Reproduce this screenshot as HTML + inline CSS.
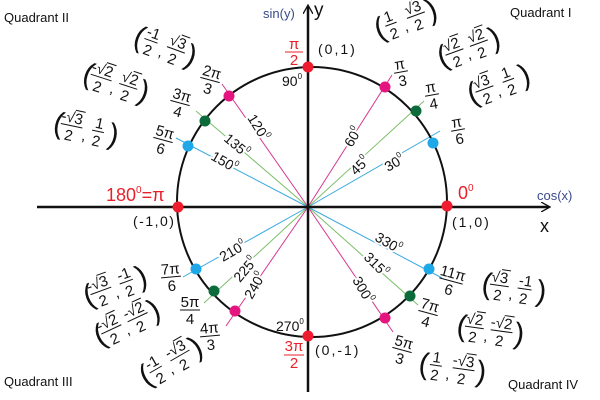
<!DOCTYPE html>
<html><head><meta charset="utf-8"><style>
html,body{margin:0;padding:0;background:#fff;width:600px;height:400px;overflow:hidden}
svg text{font-family:"Liberation Sans",sans-serif;fill:#111}
.f{font-size:15px;text-anchor:middle}
.p{font-size:30px}
.r{fill:#e8202a}
.d{font-size:14px;stroke:#fff;stroke-width:4px;paint-order:stroke}
</style></head><body>
<svg width="600" height="400" viewBox="0 0 600 400" xmlns="http://www.w3.org/2000/svg">
<defs>
<marker id="ar" markerWidth="10" markerHeight="10" refX="8" refY="5" orient="auto" markerUnits="userSpaceOnUse"><path d="M0,0 L9,5 L0,10" fill="none" stroke="#111" stroke-width="1.3"/></marker>
</defs>
<g stroke-width="1">
<line x1="308" y1="207" x2="440" y2="131" stroke="#3aa9e0"/>
<line x1="308" y1="207" x2="424" y2="101" stroke="#7cbf6a"/>
<line x1="308" y1="207" x2="392" y2="75" stroke="#d6388e"/>
<line x1="308" y1="207" x2="222" y2="84" stroke="#d6388e"/>
<line x1="308" y1="207" x2="196" y2="111" stroke="#7cbf6a"/>
<line x1="308" y1="207" x2="176" y2="138" stroke="#3aa9e0"/>
<line x1="308" y1="207" x2="183" y2="277" stroke="#3aa9e0"/>
<line x1="308" y1="207" x2="204" y2="303" stroke="#7cbf6a"/>
<line x1="308" y1="207" x2="226" y2="326" stroke="#d6388e"/>
<line x1="308" y1="207" x2="393" y2="332" stroke="#d6388e"/>
<line x1="308" y1="207" x2="418" y2="305" stroke="#7cbf6a"/>
<line x1="308" y1="207" x2="442" y2="278" stroke="#3aa9e0"/>
</g>
<ellipse cx="312" cy="202" rx="135" ry="135" fill="none" stroke="#111" stroke-width="2"/>
<line x1="37" y1="207" x2="549" y2="207" stroke="#111" stroke-width="2.5" marker-end="url(#ar)"/>
<line x1="308" y1="392" x2="308" y2="6" stroke="#111" stroke-width="2.5" marker-end="url(#ar)"/>
<g>
<circle cx="308" cy="67" r="5.5" fill="#ee1c2e"/><circle cx="308" cy="336" r="5.5" fill="#ee1c2e"/>
<circle cx="178" cy="207" r="5.5" fill="#ee1c2e"/><circle cx="447" cy="206" r="5.5" fill="#ee1c2e"/>
<circle cx="433" cy="143" r="5.5" fill="#1fa8e8"/><circle cx="416" cy="111" r="5.5" fill="#0b6b3a"/><circle cx="385" cy="87" r="5.5" fill="#e5157f"/>
<circle cx="229" cy="96" r="5.5" fill="#e5157f"/><circle cx="205" cy="121" r="5.5" fill="#0b6b3a"/><circle cx="188" cy="146" r="5.5" fill="#1fa8e8"/>
<circle cx="196" cy="269" r="5.5" fill="#1fa8e8"/><circle cx="214" cy="291" r="5.5" fill="#0b6b3a"/><circle cx="235" cy="311" r="5.5" fill="#e5157f"/>
<circle cx="385" cy="318" r="5.5" fill="#e5157f"/><circle cx="410" cy="296" r="5.5" fill="#0b6b3a"/><circle cx="429" cy="269" r="5.5" fill="#1fa8e8"/>
</g>
<text x="4" y="22" font-size="13">Quadrant II</text>
<text x="510" y="17" font-size="13">Quadrant I</text>
<text x="4" y="386" font-size="13">Quadrant III</text>
<text x="508" y="389" font-size="13">Quadrant IV</text>
<text x="263" y="18" font-size="13" style="fill:#3a4a8a">sin(y)</text>
<text x="314" y="16" font-size="19">y</text>
<text x="537" y="200" font-size="13" style="fill:#3a4a8a">cos(x)</text>
<text x="540" y="232" font-size="18">x</text>
<text x="294" y="49" class="f r">π</text><line x1="285" y1="52" x2="303" y2="52" stroke="#e8202a"/><text x="294" y="65" class="f r">2</text>
<text x="318" y="54" font-size="14" letter-spacing="2">(0,1)</text>
<text x="282" y="86" font-size="14">90<tspan font-size="8" dy="-7">0</tspan></text>
<text x="106" y="201" font-size="18" class="r">180<tspan font-size="10" dy="-8">0</tspan><tspan dy="8">=π</tspan></text>
<text x="133" y="226" font-size="14" letter-spacing="1.5">(-1,0)</text>
<text x="458" y="199" font-size="18" class="r">0<tspan font-size="10" dy="-8">0</tspan></text>
<text x="452" y="227" font-size="14" letter-spacing="2">(1,0)</text>
<text x="276" y="331" font-size="14">270<tspan font-size="8" dy="-7">0</tspan></text>
<text x="294" y="351" class="f r">3π</text><line x1="284" y1="355" x2="304" y2="355" stroke="#e8202a"/><text x="294" y="368" class="f r">2</text>
<text x="315" y="355" font-size="14" letter-spacing="2">(0,-1)</text>
<text class="d" transform="translate(352,148) rotate(-60)">60<tspan font-size="8" dy="-7">0</tspan></text>
<text class="d" transform="translate(356,176) rotate(-45)">45<tspan font-size="8" dy="-7">0</tspan></text>
<text class="d" transform="translate(388,172) rotate(-30)">30<tspan font-size="8" dy="-7">0</tspan></text>
<text class="d" transform="translate(247,118) rotate(58)">120<tspan font-size="8" dy="-7">0</tspan></text>
<text class="d" transform="translate(223,140) rotate(40)">135<tspan font-size="8" dy="-7">0</tspan></text>
<text class="d" transform="translate(210,159) rotate(30)">150<tspan font-size="8" dy="-7">0</tspan></text>
<text class="d" transform="translate(223,262) rotate(-30)">210<tspan font-size="8" dy="-7">0</tspan></text>
<text class="d" transform="translate(240,283) rotate(-50)">225<tspan font-size="8" dy="-7">0</tspan></text>
<text class="d" transform="translate(252,300) rotate(-60)">240<tspan font-size="8" dy="-7">0</tspan></text>
<text class="d" transform="translate(374,240) rotate(30)">330<tspan font-size="8" dy="-7">0</tspan></text>
<text class="d" transform="translate(363,258) rotate(45)">315<tspan font-size="8" dy="-7">0</tspan></text>
<text class="d" transform="translate(352,280) rotate(60)">300<tspan font-size="8" dy="-7">0</tspan></text>
<g transform="translate(401,72) rotate(-10)"><text class="f" y="-3">π</text><line x1="-7" x2="7" stroke="#111"/><text class="f" y="14">3</text></g>
<g transform="translate(432,95) rotate(-10)"><text class="f" y="-3">π</text><line x1="-7" x2="7" stroke="#111"/><text class="f" y="14">4</text></g>
<g transform="translate(458,130) rotate(-10)"><text class="f" y="-3">π</text><line x1="-7" x2="7" stroke="#111"/><text class="f" y="14">6</text></g>
<g transform="translate(210,80) rotate(15)"><text class="f" y="-3">2π</text><line x1="-10" x2="10" stroke="#111"/><text class="f" y="14">3</text></g>
<g transform="translate(180,103) rotate(15)"><text class="f" y="-3">3π</text><line x1="-10" x2="10" stroke="#111"/><text class="f" y="14">4</text></g>
<g transform="translate(163,140) rotate(15)"><text class="f" y="-3">5π</text><line x1="-10" x2="10" stroke="#111"/><text class="f" y="14">6</text></g>
<g transform="translate(171,277) rotate(-5)"><text class="f" y="-3">7π</text><line x1="-10" x2="10" stroke="#111"/><text class="f" y="14">6</text></g>
<g transform="translate(190,310)"><text class="f" y="-3">5π</text><line x1="-10" x2="10" stroke="#111"/><text class="f" y="14">4</text></g>
<g transform="translate(210,336) rotate(-5)"><text class="f" y="-3">4π</text><line x1="-10" x2="10" stroke="#111"/><text class="f" y="14">3</text></g>
<g transform="translate(451,281) rotate(15)"><text class="f" y="-3">11π</text><line x1="-12" x2="12" stroke="#111"/><text class="f" y="14">6</text></g>
<g transform="translate(428,313) rotate(15)"><text class="f" y="-3">7π</text><line x1="-10" x2="10" stroke="#111"/><text class="f" y="14">4</text></g>
<g transform="translate(402,350) rotate(15)"><text class="f" y="-3">5π</text><line x1="-10" x2="10" stroke="#111"/><text class="f" y="14">3</text></g>
<g transform="translate(375,30) rotate(-20)"><text class="p" y="10">(</text><text class="f" x="17" y="-3">1</text><line x1="11" x2="23" stroke="#111"/><text class="f" x="17" y="15">2</text><text x="28" y="12" font-size="15">,</text><text class="f" x="43" y="-3">√3</text><line x1="44" x2="53" y1="-16" y2="-16" stroke="#111"/><line x1="34" x2="53" stroke="#111"/><text class="f" x="43" y="15">2</text><text class="p" x="55" y="10">)</text></g>
<g transform="translate(438,58) rotate(-20)"><text class="p" y="10">(</text><text class="f" x="17" y="-3">√2</text><line x1="18" x2="27" y1="-16" y2="-16" stroke="#111"/><line x1="8" x2="27" stroke="#111"/><text class="f" x="17" y="15">2</text><text x="28" y="12" font-size="15">,</text><text class="f" x="43" y="-3">√2</text><line x1="44" x2="53" y1="-16" y2="-16" stroke="#111"/><line x1="34" x2="53" stroke="#111"/><text class="f" x="43" y="15">2</text><text class="p" x="55" y="10">)</text></g>
<g transform="translate(468,95) rotate(-20)"><text class="p" y="10">(</text><text class="f" x="17" y="-3">√3</text><line x1="18" x2="27" y1="-16" y2="-16" stroke="#111"/><line x1="8" x2="27" stroke="#111"/><text class="f" x="17" y="15">2</text><text x="28" y="12" font-size="15">,</text><text class="f" x="43" y="-3">1</text><line x1="37" x2="49" stroke="#111"/><text class="f" x="43" y="15">2</text><text class="p" x="55" y="10">)</text></g>
<g transform="translate(135,35) rotate(20)"><text class="p" y="10">(</text><text class="f" x="17" y="-3">-1</text><line x1="10" x2="24" stroke="#111"/><text class="f" x="17" y="15">2</text><text x="28" y="12" font-size="15">,</text><text class="f" x="43" y="-3">√3</text><line x1="44" x2="53" y1="-16" y2="-16" stroke="#111"/><line x1="34" x2="53" stroke="#111"/><text class="f" x="43" y="15">2</text><text class="p" x="55" y="10">)</text></g>
<g transform="translate(84,72) rotate(18)"><text class="p" y="10">(</text><text class="f" x="17" y="-3">-√2</text><line x1="19" x2="29" y1="-16" y2="-16" stroke="#111"/><line x1="7" x2="29" stroke="#111"/><text class="f" x="17" y="15">2</text><text x="30" y="12" font-size="15">,</text><text class="f" x="46" y="-3">√2</text><line x1="47" x2="56" y1="-16" y2="-16" stroke="#111"/><line x1="37" x2="56" stroke="#111"/><text class="f" x="46" y="15">2</text><text class="p" x="58" y="10">)</text></g>
<g transform="translate(54,122) rotate(12)"><text class="p" y="10">(</text><text class="f" x="17" y="-3">-√3</text><line x1="19" x2="29" y1="-16" y2="-16" stroke="#111"/><line x1="7" x2="29" stroke="#111"/><text class="f" x="17" y="15">2</text><text x="30" y="12" font-size="15">,</text><text class="f" x="45" y="-3">1</text><line x1="39" x2="51" stroke="#111"/><text class="f" x="45" y="15">2</text><text class="p" x="56" y="10">)</text></g>
<g transform="translate(84,297) rotate(-20)"><text class="p" y="10">(</text><text class="f" x="17" y="-3">-√3</text><line x1="19" x2="29" y1="-16" y2="-16" stroke="#111"/><line x1="7" x2="29" stroke="#111"/><text class="f" x="17" y="15">2</text><text x="30" y="12" font-size="15">,</text><text class="f" x="45" y="-3">-1</text><line x1="38" x2="52" stroke="#111"/><text class="f" x="45" y="15">2</text><text class="p" x="56" y="10">)</text></g>
<g transform="translate(95,337) rotate(-25)"><text class="p" y="10">(</text><text class="f" x="17" y="-3">-√2</text><line x1="19" x2="29" y1="-16" y2="-16" stroke="#111"/><line x1="7" x2="29" stroke="#111"/><text class="f" x="17" y="15">2</text><text x="30" y="12" font-size="15">,</text><text class="f" x="46" y="-3">-√2</text><line x1="48" x2="58" y1="-16" y2="-16" stroke="#111"/><line x1="36" x2="58" stroke="#111"/><text class="f" x="46" y="15">2</text><text class="p" x="60" y="10">)</text></g>
<g transform="translate(141,378) rotate(-30)"><text class="p" y="10">(</text><text class="f" x="17" y="-3">-1</text><line x1="10" x2="24" stroke="#111"/><text class="f" x="17" y="15">2</text><text x="28" y="12" font-size="15">,</text><text class="f" x="44" y="-3">-√3</text><line x1="46" x2="56" y1="-16" y2="-16" stroke="#111"/><line x1="34" x2="56" stroke="#111"/><text class="f" x="44" y="15">2</text><text class="p" x="58" y="10">)</text></g>
<g transform="translate(482,283) rotate(8)"><text class="p" y="10">(</text><text class="f" x="17" y="-3">√3</text><line x1="18" x2="27" y1="-16" y2="-16" stroke="#111"/><line x1="8" x2="27" stroke="#111"/><text class="f" x="17" y="15">2</text><text x="28" y="12" font-size="15">,</text><text class="f" x="43" y="-3">-1</text><line x1="36" x2="50" stroke="#111"/><text class="f" x="43" y="15">2</text><text class="p" x="55" y="10">)</text></g>
<g transform="translate(457,325) rotate(8)"><text class="p" y="10">(</text><text class="f" x="17" y="-3">√2</text><line x1="18" x2="27" y1="-16" y2="-16" stroke="#111"/><line x1="8" x2="27" stroke="#111"/><text class="f" x="17" y="15">2</text><text x="28" y="12" font-size="15">,</text><text class="f" x="44" y="-3">-√2</text><line x1="46" x2="56" y1="-16" y2="-16" stroke="#111"/><line x1="34" x2="56" stroke="#111"/><text class="f" x="44" y="15">2</text><text class="p" x="58" y="10">)</text></g>
<g transform="translate(419,363) rotate(8)"><text class="p" y="10">(</text><text class="f" x="17" y="-3">1</text><line x1="11" x2="23" stroke="#111"/><text class="f" x="17" y="15">2</text><text x="28" y="12" font-size="15">,</text><text class="f" x="44" y="-3">-√3</text><line x1="46" x2="56" y1="-16" y2="-16" stroke="#111"/><line x1="34" x2="56" stroke="#111"/><text class="f" x="44" y="15">2</text><text class="p" x="58" y="10">)</text></g>
</svg>
</body></html>
